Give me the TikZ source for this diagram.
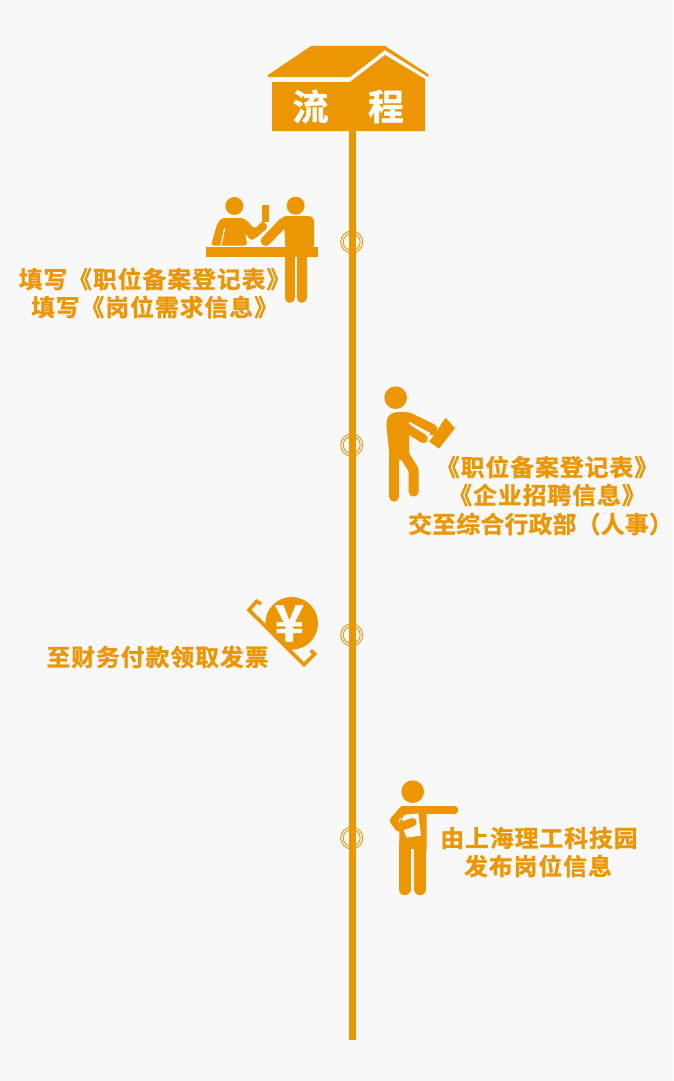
\documentclass[tikz,border=0pt]{standalone}
\usepackage{fontspec}
\setmainfont{Noto Sans CJK SC}[BoldFont={* Bold},BoldFeatures={FakeBold=1.2}]
\definecolor{mainor}{HTML}{EB9602}
\definecolor{bgc}{HTML}{F8F8F8}
\tikzset{
  caption/.style={text=mainor,font=\fontsize{23.6}{23.6}\selectfont\bfseries\addfontfeature{LetterSpace=5},inner sep=0pt,anchor=center},
  tightcaption/.style={text=mainor,font=\fontsize{23.6}{23.6}\selectfont\bfseries\addfontfeature{LetterSpace=2},inner sep=0pt,anchor=center},
  solidpart/.style={fill=mainor,draw=none},
  limb/.style={draw=mainor,line cap=round,line join=round},
  ring/.style={draw=mainor,line width=0.9pt},
}
\begin{document}
\begin{tikzpicture}[x=1pt,y=-1pt]
\fill[bgc] (0,0) rectangle (673,1081);
\useasboundingbox (0,0) rectangle (673,1081);
% axis
\coordinate (top) at (352.5,131);
\coordinate (bottom) at (352.5,1040);
\draw[mainor,line width=7pt] (top) -- (bottom);
% rings
\foreach \n/\yy in {a/242,b/445,c/635,d/838}{
  \coordinate (r\n) at (351.7,\yy);
  \draw[ring] (r\n) circle (11);
  \draw[ring] (r\n) circle (8.5);
}
% house
\fill[solidpart] (268,75) -- (311,46) -- (385,46) -- (428,74) -- (428,77) -- (385,50) -- (350,77) -- (268,77) -- cycle;
\fill[solidpart] (272,82) -- (350,82) -- (385,55) -- (425,79) -- (425,131) -- (272,131) -- cycle;
\node[text=white,font=\fontsize{36}{36}\selectfont\bfseries,inner sep=0pt] (liu) at (310.5,106.5) {流};
\node[text=white,font=\fontsize{36}{36}\selectfont\bfseries,inner sep=0pt] (cheng) at (386,106.5) {程};
% icon 1
\begin{scope}[shift={(200,190)},scale=1/3]
  \fill[solidpart] (103,48) circle (27);
  \fill[solidpart] (287,47) circle (27);
  \fill[solidpart] (185,45) rectangle (207,97);
  \fill[solidpart,rounded corners=3pt] (33,167) -- (52,100) -- (66,84) -- (130,84) -- (146,97) -- (163,117) -- (190,92) -- (205,112) -- (160,150) -- (148,148) -- (135,127) -- (142,167) -- cycle;
  \draw[bgc,line width=1.2pt] (62,170) -- (74,115);
  \draw[limb,line width=10pt] (250,98) -- (197,153);
  \fill[solidpart,rounded corners=5pt] (242,78) -- (342,78) -- (342,180) -- (255,180) -- (255,125) -- cycle;
  \fill[solidpart] (18,172) rectangle (355,202);
  \draw[limb,line width=10.3pt] (269,195) -- (269,323);
  \draw[limb,line width=10.3pt] (305,195) -- (305,323);
  \draw[bgc,line width=1.2pt] (287,202) -- (287,335);
\end{scope}
% icon 2
\begin{scope}[shift={(335,380)},scale=1/3]
  \fill[solidpart] (182,53) circle (34);
  \fill[solidpart,rounded corners=5pt] (153,125) -- (165,98) -- (220,95) -- (312,140) -- (295,172) -- (222,128) -- (222,240) -- (165,240) -- cycle;
  \draw[limb,line width=9pt] (205,138) -- (265,176);
  \draw[limb,line width=10pt] (177,225) -- (177,350);
  \draw[limb,line width=10pt] (208,225) -- (236,270) -- (236,335);
  \draw[bgc,line width=2pt] (222,128) -- (285,162);
  \fill[solidpart] (332,113) -- (360,145) -- (312,206) -- (283,185) -- cycle;
\end{scope}
% icon 3
\begin{scope}[shift={(240,590)},scale=1/3]
  \begin{scope}
    \clip (0,35) -- (190,225) -- (400,225) -- (400,0) -- (0,0) -- cycle;
    \fill[solidpart] (155,100) circle (79);
  \end{scope}
  \draw[mainor,line width=3.6pt,line join=miter] (63,42) -- (50,34) -- (27,60) -- (192,224) -- (224,192) -- (212,181);
  \node[text=white,font=\fontsize{50}{50}\selectfont\bfseries,inner sep=0pt] (yen) at (148,100) {¥};
\end{scope}
% icon 4
\begin{scope}[shift={(335,770)},scale=1/3]
  \fill[solidpart] (233,65) circle (34);
  \draw[limb,line width=8pt] (205,120) -- (358,120);
  \fill[solidpart,rounded corners=4pt] (195,108) -- (275,108) -- (275,250) -- (192,250) -- cycle;
  \draw[limb,line width=11.7pt] (209,230) -- (209,358);
  \draw[limb,line width=11.7pt] (256,230) -- (256,358);
  \draw[bgc,line width=3.4pt] (232.5,237) -- (232.5,380);
  \fill[bgc] (200,135) -- (250,130) -- (258,197) -- (215,203) -- (205,178) -- cycle;
  \draw[limb,line width=8.5pt] (205,120) -- (177,152) -- (192,172) -- (232,157);
  \draw[bgc,line width=1pt] (197,143) -- (192,157);
\end{scope}
% captions
\node[caption] (t1) at (154.5,279) {填写《职位备案登记表》};
\node[caption] (t2) at (154.5,307) {填写《岗位需求信息》};
\node[caption] (t3) at (547,467) {《职位备案登记表》};
\node[caption] (t4) at (547,495) {《企业招聘信息》};
\node[tightcaption] (t5) at (540.5,524) {交至综合行政部（人事）};
\node[caption] (t6) at (157.5,657) {至财务付款领取发票};
\node[caption] (t7) at (539,838) {由上海理工科技园};
\node[caption] (t8) at (538,866) {发布岗位信息};
\end{tikzpicture}
\end{document}
